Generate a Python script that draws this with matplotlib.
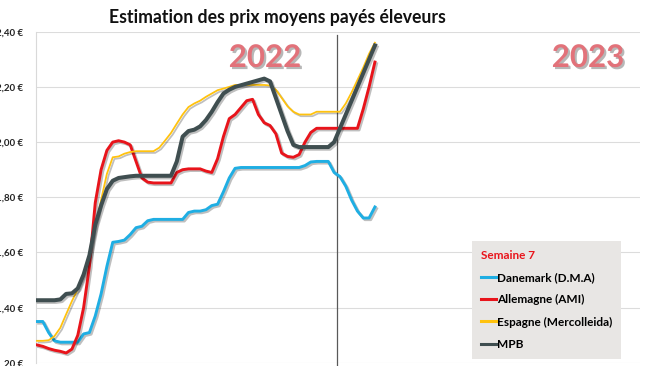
import numpy as np
import matplotlib
matplotlib.use("Agg")
import matplotlib.pyplot as plt
import matplotlib.patheffects as pe
from matplotlib.lines import Line2D

# weekly prices, 52 weeks of 2022 then weeks 1-7 of 2023 (EUR/kg)
weeks = np.arange(59)
week_split = 51.5   # boundary 2022 / 2023

danemark = [1.35, 1.35, 1.31, 1.28, 1.275, 1.275, 1.275, 1.275, 1.305, 1.31,
            1.37, 1.45, 1.55, 1.637, 1.64, 1.645, 1.665, 1.69, 1.695, 1.715,
            1.72, 1.72, 1.72, 1.72, 1.72, 1.72, 1.745, 1.75, 1.75, 1.755,
            1.77, 1.775, 1.82, 1.87, 1.905, 1.908, 1.908, 1.908, 1.908, 1.908,
            1.908, 1.908, 1.908, 1.908, 1.908, 1.908, 1.915, 1.928, 1.93, 1.93,
            1.93, 1.89, 1.875, 1.84, 1.79, 1.75, 1.725, 1.725, 1.765]

allemagne = [1.265, 1.26, 1.252, 1.246, 1.242, 1.236, 1.25, 1.30, 1.40, 1.55,
             1.78, 1.90, 1.97, 2.0, 2.005, 2.0, 1.99, 1.93, 1.87, 1.855,
             1.852, 1.852, 1.852, 1.852, 1.89, 1.90, 1.903, 1.903, 1.903, 1.895,
             1.89, 1.94, 2.02, 2.085, 2.10, 2.125, 2.15, 2.155, 2.10, 2.07,
             2.06, 2.03, 1.96, 1.948, 1.945, 1.955, 2.0, 2.035, 2.05, 2.05,
             2.05, 2.05, 2.05, 2.05, 2.05, 2.05, 2.12, 2.20, 2.29]

espagne = [1.28, 1.28, 1.282, 1.297, 1.327, 1.376, 1.424, 1.467, 1.52, 1.594,
           1.69, 1.79, 1.885, 1.945, 1.948, 1.958, 1.964, 1.967, 1.967, 1.967,
           1.967, 1.98, 2.006, 2.033, 2.067, 2.10, 2.127, 2.14, 2.15, 2.164,
           2.176, 2.188, 2.194, 2.20, 2.207, 2.207, 2.207, 2.207, 2.207, 2.207,
           2.205, 2.19, 2.16, 2.13, 2.11, 2.10, 2.10, 2.10, 2.11, 2.11,
           2.11, 2.11, 2.11, 2.14, 2.18, 2.225, 2.27, 2.32, 2.36]

mpb = [1.427, 1.427, 1.427, 1.427, 1.43, 1.45, 1.452, 1.47, 1.52, 1.59,
       1.70, 1.77, 1.83, 1.86, 1.87, 1.873, 1.876, 1.878, 1.878, 1.878,
       1.878, 1.878, 1.878, 1.878, 1.93, 2.02, 2.04, 2.045, 2.057, 2.08,
       2.11, 2.145, 2.176, 2.19, 2.20, 2.206, 2.212, 2.218, 2.224, 2.23,
       2.22, 2.16, 2.10, 2.04, 1.99, 1.982, 1.982, 1.982, 1.982, 1.982,
       1.982, 2.0, 2.05, 2.10, 2.15, 2.20, 2.25, 2.30, 2.35]

series_names = ["Danemark (D.M.A)", "Allemagne (AMI)", "Espagne (Mercolleida)", "MPB"]
series_values = [danemark, allemagne, espagne, mpb]
series_colors = ["#1FAEE3", "#E8141B", "#FFC20E", "#3F4E50"]
series_widths = [2.1, 2.1, 1.3, 2.9]

y_ticks = [1.20, 1.40, 1.60, 1.80, 2.00, 2.20, 2.40]

plt.rcParams['font.family'] = ['Lato', 'DejaVu Sans']

fig = plt.figure(figsize=(6.5, 3.66), dpi=100)
ax = fig.add_axes([36 / 650, 3.1 / 366, 604 / 650, 331.2 / 366])

shadow = [pe.SimpleLineShadow(offset=(1.2, -1.2), alpha=0.25), pe.Normal()]
for vals, col, lw in zip(series_values, series_colors, series_widths):
    ax.plot(weeks, vals, color=col, lw=lw, solid_joinstyle='round',
            path_effects=shadow, zorder=3)

# year separator
ax.plot([week_split, week_split], [1.17, 2.388], color="#595959", lw=0.9,
        clip_on=False, zorder=2)

ax.set_xlim(-0.17, 103.5)
ax.set_ylim(1.20, 2.40)
ax.set_yticks(y_ticks)
ax.set_yticklabels([("%.2f €" % v).replace(".", ",") for v in y_ticks],
                   fontsize=7, fontweight='bold', color="#222222")
ax.tick_params(axis='y', length=0, pad=9)
ax.set_xticks([])
ax.grid(axis='y', color="#DCDCDC", lw=0.8)
ax.set_axisbelow(True)
for s in ["top", "right", "bottom"]:
    ax.spines[s].set_visible(False)
ax.spines["left"].set_color("#D9D9D9")
ax.spines["left"].set_linewidth(0.8)

fig.text(277 / 650, 1 - 18 / 366, "Estimation des prix moyens payés éleveurs",
         ha='center', va='center', fontsize=12.7, fontweight='bold', color="#111111")

year_fx = [pe.SimplePatchShadow(offset=(1.5, -1.5), shadow_rgbFace="#888888", alpha=0.6),
           pe.Normal()]
fig.text(265 / 650, 1 - 58 / 366, "2022", ha='center', va='center', fontsize=22.5,
         fontweight='bold', color="#E2727A", path_effects=year_fx)
fig.text(588 / 650, 1 - 58 / 366, "2023", ha='center', va='center', fontsize=22.5,
         fontweight='bold', color="#E2727A", path_effects=year_fx)

handles = [Line2D([0], [0], color=c, lw=2.2) for c in series_colors]
leg = ax.legend(handles, series_names, title="Semaine 7",
                loc='upper left', bbox_to_anchor=(472 / 650, 1 - 241 / 366),
                bbox_transform=fig.transFigure, frameon=True, fancybox=False,
                handlelength=1.3, handletextpad=0.1, labelspacing=0.95,
                borderpad=0.75, borderaxespad=0,
                prop={'size': 8.5, 'weight': 'bold'})
leg.get_frame().set_facecolor("#E8E6E4")
leg.get_frame().set_edgecolor("none")
leg.get_frame().set_alpha(1)
leg.get_title().set_color("#E8141B")
leg.get_title().set_fontweight('bold')
leg.get_title().set_fontsize(8.5)
leg._legend_box.align = "left"

fig.savefig("out.png", dpi=100)
